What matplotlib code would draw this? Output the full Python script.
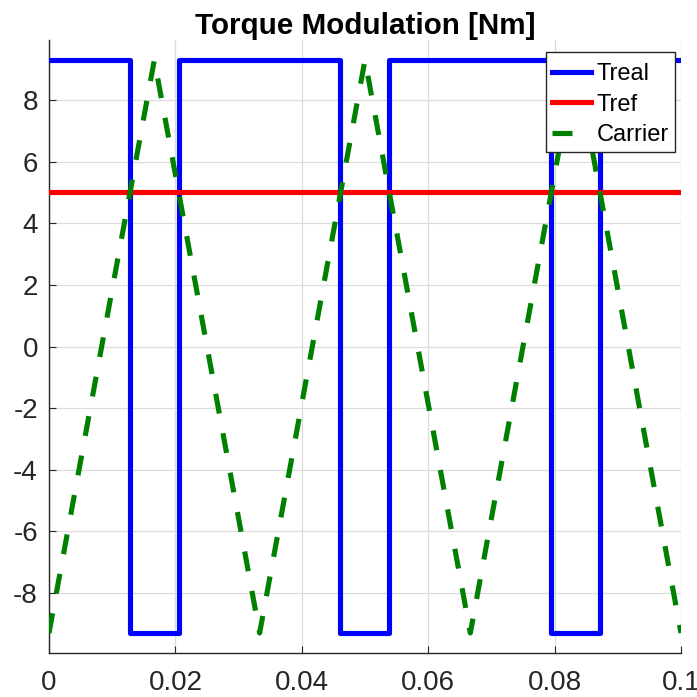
import matplotlib
matplotlib.use('Agg')
import matplotlib.pyplot as plt

plt.rcParams['font.family'] = ['Liberation Sans', 'DejaVu Sans']
plt.rcParams['axes.unicode_minus'] = False

# carrier: triangle vertices (s, Nm)
carrier_t = [0.0, 0.01667, 0.03333, 0.05, 0.06667, 0.08333, 0.1]
carrier_v = [-9.3, 9.3, -9.3, 9.3, -9.3, 9.3, -9.3]

# modulated torque: switching instants and levels (step, held until next)
treal_t = [0.0, 0.0128, 0.0205, 0.0461, 0.0538, 0.0795, 0.0872, 0.1]
treal_v = [9.3, -9.3, 9.3, -9.3, 9.3, -9.3, 9.3, 9.3]

# reference torque
tref_t = [0.0, 0.1]
tref_v = [5.0, 5.0]

xticks = [0, 0.02, 0.04, 0.06, 0.08, 0.1]
xticklabels = ['0', '0.02', '0.04', '0.06', '0.08', '0.1']
yticks = [-8, -6, -4, -2, 0, 2, 4, 6, 8]

fig = plt.figure(figsize=(6.97, 6.97), dpi=100)
ax = fig.add_axes([0.0703, 0.0631, 0.9067, 0.8795])

lw = 3.7
ax.plot(treal_t, treal_v, color='#0000ff', lw=lw, drawstyle='steps-post', label='Treal', zorder=3)
ax.plot(tref_t, tref_v, color='#ff0000', lw=lw, label='Tref', zorder=3)
ax.plot(carrier_t, carrier_v, color='#008000', lw=lw, linestyle=(0, (3.9, 3.9)),
        dash_capstyle='butt', label='Carrier', zorder=3)

ax.set_xlim(0, 0.1)
ax.set_ylim(-9.95, 9.95)
ax.set_xticks(xticks)
ax.set_xticklabels(xticklabels)
ax.set_yticks(yticks)

ax.grid(True, color='#dcdcdc', lw=0.9)
ax.set_axisbelow(True)
for s in ['top', 'right']:
    ax.spines[s].set_visible(False)
for s in ['left', 'bottom']:
    ax.spines[s].set_color('#262626')
    ax.spines[s].set_linewidth(1.0)
ax.tick_params(direction='in', length=5, width=0.8, colors='#262626',
               labelsize=20, pad=12)
ax.tick_params(axis='y', pad=8)

ax.set_title('Torque Modulation [Nm]', fontsize=21.3, fontweight='bold', pad=4)

# tiny blank title only to push the entries down a little inside the frame
leg = ax.legend(loc='upper right', bbox_to_anchor=(675 / 697, 1 - 52 / 697),
                bbox_transform=fig.transFigure, borderaxespad=0, fontsize=17,
                fancybox=False, framealpha=1, edgecolor='#262626',
                handlelength=1.65, handletextpad=0.25, labelspacing=0.37,
                borderpad=0.25, title=' ', title_fontsize=4.5)
leg._legend_box.sep = 0
leg.get_frame().set_linewidth(1.0)

fig.savefig('out.png', dpi=100)
